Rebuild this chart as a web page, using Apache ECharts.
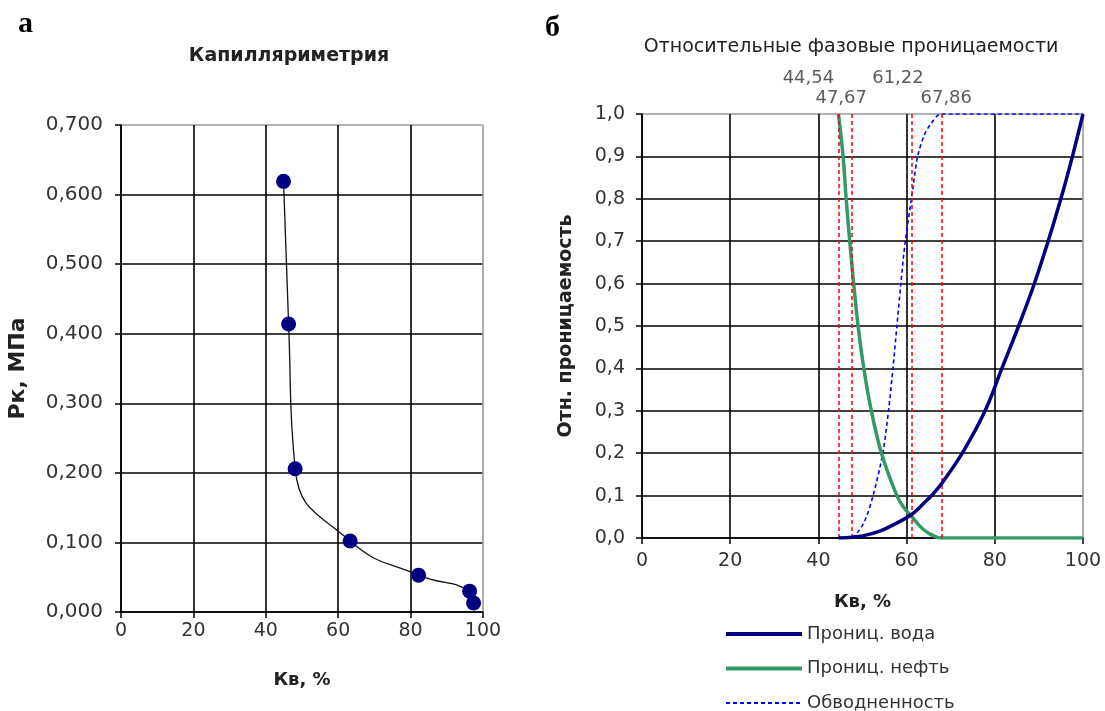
<!DOCTYPE html>
<html><head><meta charset="utf-8">
<script src="https://cdn.jsdelivr.net/npm/echarts@6/dist/echarts.min.js"></script>
<style>html,body{margin:0;padding:0;background:#fff}#c{width:1105px;height:711px}</style>
</head><body><div id="c"></div>
<script>
// ---- Left chart: capillary pressure ----
const capSw = [44.9, 46.3, 48.1, 63.3, 82.2, 96.3, 97.4];
const capPc = [0.619, 0.414, 0.206, 0.102, 0.053, 0.030, 0.013];

// ---- Right chart: relative permeabilities ----
const cutoffs = [44.54, 47.67, 61.22, 67.86];
const waterSw = [44.54, 47.67, 50, 53.6, 57, 61.2, 64, 66.1, 68.2, 72.9, 77.8, 81.6, 85.4, 88.8, 91.8, 94.9, 97.5, 100];
const waterKr = [0, 0.002, 0.005, 0.015, 0.031, 0.056, 0.083, 0.105, 0.132, 0.205, 0.3, 0.4, 0.5, 0.595, 0.69, 0.797, 0.896, 1.0];
const oilSw = [44.54, 45.6, 46.3, 47.1, 48, 49, 50.3, 52, 54.3, 57.8, 59.5, 61.2, 63, 65, 66.8, 67.86, 100];
const oilKr = [1.0, 0.9, 0.8, 0.7, 0.6, 0.5, 0.4, 0.3, 0.2, 0.1, 0.07, 0.05, 0.028, 0.011, 0.002, 0, 0];
const cutSw = [47.67, 49, 50.5, 52.4, 54.6, 55.9, 56.9, 57.8, 58.7, 59.7, 61.1, 62.5, 64, 65.4, 67.86, 100];
const cutFw = [0, 0.015, 0.04, 0.1, 0.2, 0.3, 0.4, 0.5, 0.6, 0.7, 0.8, 0.9, 0.95, 0.975, 1.0, 1.0];
const seriesNames = ['Прониц. вода', 'Прониц. нефть', 'Обводненность'];
const labelOffsets = [[-30, -20], [-11, 0], [-14, -20], [5, 0]];

const zip = (a, b) => a.map((v, i) => [v, b[i]]);
const FONT = 'DejaVu Sans';
const comma = (v, d) => v.toFixed(d).replace('.', ',');
const splitColors = (n) => Array.from({length: n}, (_, i) => i === n - 1 ? '#999' : '#000');

const chart = echarts.init(document.getElementById('c'), null, {renderer: 'canvas'});
const axisCommon = {
  axisLine: {show: true, lineStyle: {color: '#000', width: 1.5}},
  axisTick: {show: true, length: 6, lineStyle: {color: '#000', width: 1.5}},
  nameTextStyle: {fontFamily: FONT, fontWeight: 'bold', fontSize: 18, color: '#222'}
};
chart.setOption({
  animation: false,
  backgroundColor: '#fff',
  title: [
    {text: 'а', left: 13, top: 4, textStyle: {fontFamily: 'Liberation Serif', fontWeight: 'bold', fontSize: 30, color: '#000'}},
    {text: 'б', left: 540, top: 8, textStyle: {fontFamily: 'Liberation Serif', fontWeight: 'bold', fontSize: 30, color: '#000'}},
    {text: 'Капилляриметрия', left: 284, top: 42, textAlign: 'center', textStyle: {fontFamily: FONT, fontWeight: 'bold', fontSize: 19, color: '#222'}},
    {text: 'Относительные фазовые проницаемости', left: 846, top: 33, textAlign: 'center', textStyle: {fontFamily: FONT, fontWeight: 'normal', fontSize: 19, color: '#222'}}
  ],
  grid: [
    {left: 121, top: 125, width: 362, height: 487},
    {left: 642, top: 114, width: 441, height: 424}
  ],
  legend: {
    orient: 'vertical', left: 724, top: 623, height: 100, padding: 0,
    itemWidth: 76, itemHeight: 14, itemGap: 12.5,
    data: [
      {name: seriesNames[0], lineStyle: {width: 4}},
      {name: seriesNames[1], lineStyle: {width: 4}},
      {name: seriesNames[2], lineStyle: {width: 1.8}}
    ],
    itemStyle: {opacity: 0, color: 'rgba(0,0,0,0)', borderWidth: 0},
    textStyle: {fontFamily: FONT, fontSize: 18, color: '#333', lineHeight: 22}
  },
  xAxis: [
    Object.assign({}, axisCommon, {
      gridIndex: 0, type: 'value', min: 0, max: 100, interval: 20,
      name: 'Кв, %', nameLocation: 'middle', nameGap: 59,
      axisLabel: {fontFamily: FONT, fontSize: 19, color: '#333', margin: 10},
      splitLine: {show: true, lineStyle: {color: splitColors(6), width: 1.6}}
    }),
    Object.assign({}, axisCommon, {
      gridIndex: 1, type: 'value', min: 0, max: 100, interval: 20,
      name: 'Кв, %', nameLocation: 'middle', nameGap: 55,
      axisLabel: {fontFamily: FONT, fontSize: 19, color: '#333', margin: 14},
      splitLine: {show: true, lineStyle: {color: splitColors(6), width: 1.6}}
    })
  ],
  yAxis: [
    Object.assign({}, axisCommon, {
      gridIndex: 0, type: 'value', min: 0, max: 0.7, interval: 0.1,
      name: 'Рк, МПа', nameLocation: 'middle', nameGap: 92,
      nameTextStyle: {fontFamily: FONT, fontWeight: 'bold', fontSize: 22, color: '#222'},
      axisLabel: {fontFamily: FONT, fontSize: 20, color: '#333', margin: 18, formatter: v => comma(v, 3)},
      splitLine: {show: true, lineStyle: {color: splitColors(8), width: 1.6}}
    }),
    Object.assign({}, axisCommon, {
      gridIndex: 1, type: 'value', min: 0, max: 1, interval: 0.1,
      name: 'Отн. проницаемость', nameLocation: 'middle', nameGap: 66,
      nameTextStyle: {fontFamily: FONT, fontWeight: 'bold', fontSize: 19, color: '#222'},
      axisLabel: {fontFamily: FONT, fontSize: 19, color: '#333', margin: 17, formatter: v => comma(v, 1)},
      splitLine: {show: true, lineStyle: {color: splitColors(11), width: 1.6}}
    })
  ],
  series: [
    {
      name: 'Капилляриметрия', type: 'line', xAxisIndex: 0, yAxisIndex: 0,
      data: zip(capSw, capPc), smooth: 0.5,
      symbol: 'circle', symbolSize: 15,
      itemStyle: {color: '#000080'}, lineStyle: {color: '#111', width: 1.3}, z: 5
    },
    {
      name: seriesNames[2], type: 'line', xAxisIndex: 1, yAxisIndex: 1,
      data: zip(cutSw, cutFw), smooth: 0.3, symbol: 'none',
      lineStyle: {color: '#0000ff', width: 1.6, type: [4, 3]}, itemStyle: {color: '#0000ff'}, z: 3
    },
    {
      name: seriesNames[1], type: 'line', xAxisIndex: 1, yAxisIndex: 1,
      data: zip(oilSw, oilKr), smooth: 0.3, symbol: 'none',
      lineStyle: {color: '#339966', width: 3.5}, itemStyle: {color: '#339966'}, z: 4
    },
    {
      name: seriesNames[0], type: 'line', xAxisIndex: 1, yAxisIndex: 1,
      data: zip(waterSw, waterKr), smooth: 0.4, symbol: 'none',
      lineStyle: {color: '#000080', width: 3.5}, itemStyle: {color: '#000080'}, z: 5
    },
    {
      name: 'cutoffs', type: 'scatter', xAxisIndex: 1, yAxisIndex: 1,
      data: cutoffs.map((v, i) => ({value: [v, 1], label: {offset: labelOffsets[i]}})),
      symbolSize: 1, itemStyle: {color: 'rgba(0,0,0,0)'}, silent: true, z: 6,
      label: {show: true, position: 'top', distance: 6, fontFamily: FONT, fontSize: 18, color: '#333',
        formatter: p => comma(p.value[0], 2)},
      markLine: {
        silent: true, symbol: 'none', animation: false,
        lineStyle: {color: '#ff0000', width: 1.5, type: [4, 3]},
        label: {show: false},
        data: cutoffs.map(v => ({xAxis: v}))
      }
    }
  ]
});
</script></body></html>
